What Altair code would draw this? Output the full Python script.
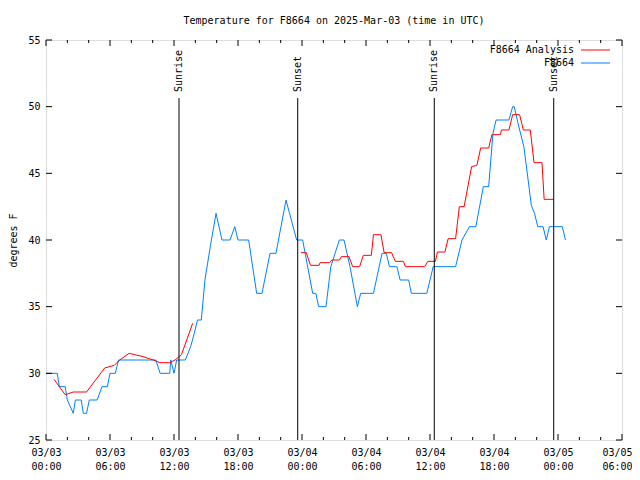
import altair as alt
import pandas as pd

# ---------------- data ----------------
BASE = pd.Timestamp("2025-03-03T00:00:00")

obs_hours = [0.0, 1.06, 1.25, 1.8, 2.0, 2.56, 2.75, 3.3, 3.5, 3.8, 4.06, 4.8, 5.25, 5.75,
             6.0, 6.5, 6.8, 10.3, 10.7, 11.6, 11.7, 12.0, 12.25, 13.06, 13.56, 13.9, 14.2,
             14.56, 14.9, 15.4, 15.94, 16.5, 17.25, 17.7, 18.0, 19.0, 19.75, 20.25, 21.0,
             21.56, 22.5, 23.0, 23.5, 24.06, 25.0, 25.3, 25.56, 26.25, 26.7, 27.1, 27.5,
             27.94, 28.5, 29.19, 29.5, 30.7, 31.5, 31.9, 32.2, 32.9, 33.2, 34.0, 34.25,
             35.7, 36.3, 38.4, 39.0, 39.7, 40.3, 41.0, 41.5, 41.9, 42.2, 43.4, 43.75,
             43.9, 44.25, 44.8, 45.2, 45.5, 45.8, 46.1, 46.6, 46.9, 47.2, 48.4, 48.7]
obs_temps = [30, 30, 29, 29, 28, 27, 28, 28, 27, 27, 28, 28, 29, 29,
             30, 30, 31, 31, 30, 30, 31, 30, 31, 31, 32, 33, 34,
             34, 37, 39.5, 42, 40, 40, 41, 40, 40, 36, 36, 39,
             39, 43, 41.5, 40, 40, 36, 36, 35, 35, 38, 39, 40,
             40, 38, 35, 36, 36, 39, 39, 38, 38, 37, 37, 36,
             36, 38, 38, 40, 41, 41, 44, 44, 48, 49, 49, 50,
             50, 48.75, 47, 44.5, 42.6, 42, 41, 41, 40, 41, 41, 40]

ana_hours = [0.75, 1.8, 2.56, 3.8, 5.5, 6.4, 6.9, 7.8, 9.1, 10.06, 10.7, 11.6, 12.1, 12.7, 13.75,
             23.9, 24.4, 24.8, 25.6, 25.7, 26.6, 26.8, 27.5, 27.7, 28.4, 28.75, 29.4, 29.75,
             30.5, 30.7, 31.4, 31.7, 32.4, 32.75, 33.5, 33.7, 35.5, 35.8, 36.5, 36.7, 37.4,
             37.7, 38.4, 38.75, 39.2, 39.9, 40.4, 40.75, 41.5, 41.8, 42.6, 42.7, 43.4,
             43.75, 44.4, 44.75, 45.4, 45.75, 46.5, 46.7, 47.6]
ana_temps = [29.55, 28.4, 28.6, 28.6, 30.4, 30.6, 31.0, 31.5, 31.25, 31.0, 30.8, 30.8, 31.0, 31.4, 33.75,
             39.05, 39.05, 38.1, 38.1, 38.3, 38.3, 38.5, 38.5, 38.75, 38.75, 38.0, 38.0, 38.85,
             38.85, 40.4, 40.4, 39.05, 39.05, 38.4, 38.4, 38.0, 38.0, 38.4, 38.4, 39.1, 39.1,
             40.1, 40.1, 42.5, 42.5, 45.5, 45.6, 46.9, 46.9, 47.9, 47.9, 48.25, 48.25,
             49.4, 49.4, 48.25, 48.25, 45.8, 45.8, 43.05, 43.05]
ana_segment = [0] * 15 + [1] * 46

event_hours = [12.47, 23.6, 36.4, 47.6]
event_labels = ["Sunrise", "Sunset", "Sunrise", "Sunset"]

y_ticks = [25, 30, 35, 40, 45, 50, 55]
x_major_hours = [0, 6, 12, 18, 24, 30, 36, 42, 48, 54]
x_minor_hours = [h for h in range(0, 55, 2) if h % 6 != 0]

title_text = "Temperature for F8664 on 2025-Mar-03 (time in UTC)"
y_title = "degrees F"
legend_labels = ["F8664 Analysis", "F8664"]
legend_colors = ["#ff0000", "#0080ff"]

FONT = "DejaVu Sans Mono"
FS = 10


def iso(hours):
    return [(BASE + pd.to_timedelta(h, unit="h")).strftime("%Y-%m-%dT%H:%M:%SZ") for h in hours]


obs_df = pd.DataFrame({"t": iso(obs_hours), "v": obs_temps})
ana_df = pd.DataFrame({"t": iso(ana_hours), "v": ana_temps, "seg": ana_segment})
ev_df = pd.DataFrame({"t": iso(event_hours), "label": event_labels})
xmaj_df = pd.DataFrame({"t": iso(x_major_hours)})
xmin_df = pd.DataFrame({"t": iso(x_minor_hours)})
y_df = pd.DataFrame({"v": y_ticks})

x_start = alt.DateTime(year=2025, month=3, date=3, hours=0, utc=True)
x_end = alt.DateTime(year=2025, month=3, date=5, hours=6, utc=True)
xscale = alt.Scale(type="utc", domain=[x_start, x_end], nice=False)
yscale = alt.Scale(domain=[25, 55], nice=False, zero=False)

last_test = "datum.value >= utc(2025, 2, 5, 6)"
x_axis = alt.Axis(
    values=[alt.DateTime(year=2025, month=3, date=3 + (h // 24), hours=h % 24, utc=True)
            for h in x_major_hours],
    labelExpr="[utcFormat(datum.value, '%m/%d'), utcFormat(datum.value, '%H:%M')]",
    title=None, ticks=False, domain=False, grid=False,
    labelFont=FONT, labelFontSize=FS, labelColor="black",
    labelPadding=7, labelLineHeight=14, labelOverlap=False, labelFlush=False,
    labelAlign={"condition": {"test": last_test, "value": "right"}, "value": "center"},
    labelOffset={"condition": {"test": last_test, "value": 10}, "value": 0},
)
y_axis = alt.Axis(
    values=y_ticks, title=y_title, ticks=False, domain=False, grid=False,
    labelFont=FONT, labelFontSize=FS, labelColor="black", labelPadding=6,
    titleFont=FONT, titleFontSize=FS, titleFontWeight="normal", titleColor="black",
    titlePadding=9,
)

X = alt.X("t:T", scale=xscale, axis=x_axis)
Y = alt.Y("v:Q", scale=yscale, axis=y_axis)

obs_line = alt.Chart(obs_df).mark_line(color=legend_colors[1], strokeWidth=1).encode(
    x=X, y=Y
)
ana_line = alt.Chart(ana_df).mark_line(color=legend_colors[0], strokeWidth=1).encode(
    x=X, y=Y, detail="seg:N"
)
ev_rule = alt.Chart(ev_df).mark_rule(color="black", strokeWidth=1).encode(
    x=X, y=alt.value(58), y2=alt.value(400)
)
ev_text = alt.Chart(ev_df).mark_text(
    angle=270, align="left", baseline="middle", font=FONT, fontSize=FS, color="black"
).encode(x=X, y=alt.value(52), text="label:N")

# inward ticks (gnuplot style) on all four sides
tick_layers = []
for df, ln in ((xmaj_df, 6), (xmin_df, 3)):
    tick_layers.append(alt.Chart(df).mark_rule(color="black", strokeWidth=1).encode(
        x=X, y=alt.value(400), y2=alt.value(400 - ln)))
    tick_layers.append(alt.Chart(df).mark_rule(color="black", strokeWidth=1).encode(
        x=X, y=alt.value(0), y2=alt.value(ln)))
tick_layers.append(alt.Chart(y_df).mark_rule(color="black", strokeWidth=1).encode(
    y=Y, x=alt.value(0), x2=alt.value(6)))
tick_layers.append(alt.Chart(y_df).mark_rule(color="black", strokeWidth=1).encode(
    y=Y, x=alt.value(576), x2=alt.value(570)))

# legend (text right-aligned, sample line to the right)
legend_layers = []
for i, (lab, col) in enumerate(zip(legend_labels, legend_colors)):
    ldf = pd.DataFrame({"label": [lab]})
    yy = 10 + 13 * i
    legend_layers.append(alt.Chart(ldf).mark_text(
        align="right", baseline="middle", font=FONT, fontSize=FS, color="black"
    ).encode(x=alt.value(528), y=alt.value(yy), text="label:N"))
    legend_layers.append(alt.Chart(ldf).mark_rule(color=col, strokeWidth=1).encode(
        x=alt.value(535), x2=alt.value(564), y=alt.value(yy)))

chart = alt.layer(
    obs_line, ana_line, ev_rule, ev_text, *tick_layers, *legend_layers
).properties(
    width=576, height=400,
    title=alt.TitleParams(title_text, font=FONT, fontSize=FS, fontWeight="normal",
                          color="black", anchor="middle", offset=9),
    autosize=alt.AutoSizeParams(type="none"),
    padding={"left": 38, "top": 32, "right": 10, "bottom": 30},
).configure_view(
    stroke="black", strokeWidth=1
).configure(background="white")

chart.save("out.html", embed_options={"renderer": "svg", "actions": False})
